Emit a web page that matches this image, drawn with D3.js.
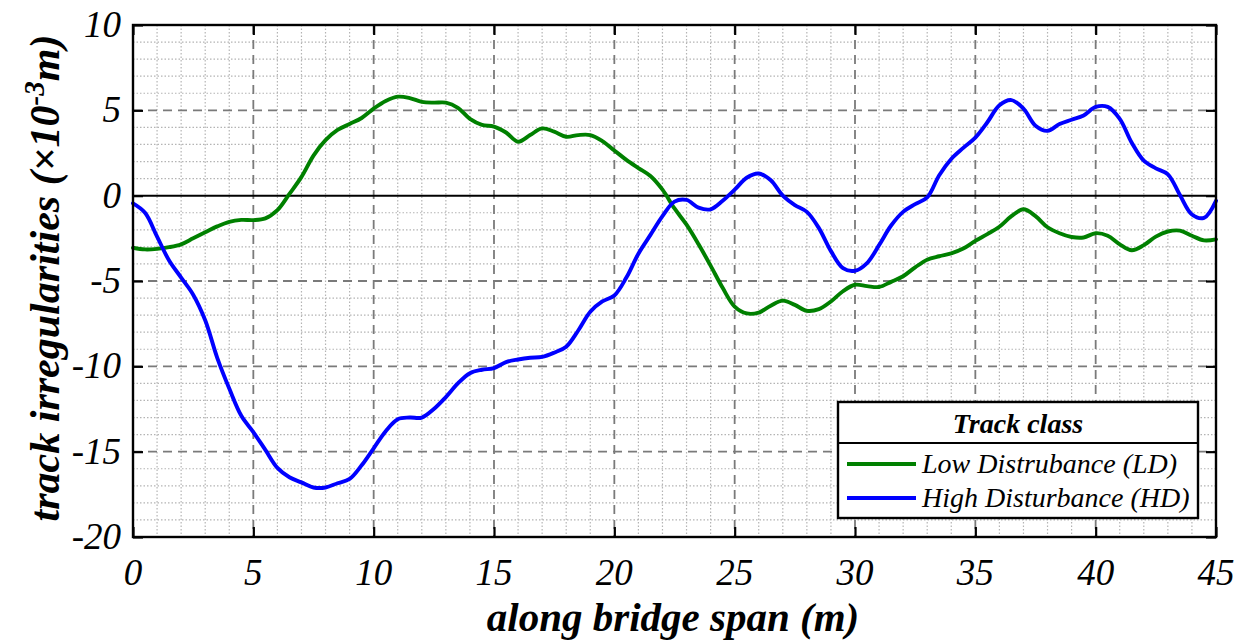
<!DOCTYPE html>
<html>
<head>
<meta charset="utf-8">
<script src="https://cdn.jsdelivr.net/npm/d3@7"></script>
<style>
  html, body { margin: 0; padding: 0; background: #fff; }
  svg { display: block; }
  text { font-family: "Liberation Serif", "Times New Roman", serif; }
</style>
</head>
<body>
<svg id="chart" width="1240" height="641"></svg>
<script>
// Positions along the span (m), sampled every 0.5 m
const spanX = d3.range(0, 45.01, 0.5);

// Low disturbance track profile (×10^-3 m)
const lowDisturbance = [
  -3.05, -3.15, -3.12, -3.02, -2.85, -2.5, -2.15, -1.8, -1.53, -1.42,
  -1.43, -1.33, -0.85, 0.1, 1.1, 2.35, 3.25, 3.85, 4.2, 4.55,
  5.1, 5.55, 5.8, 5.72, 5.5, 5.45, 5.45, 5.15, 4.5, 4.15,
  4.05, 3.7, 3.16, 3.55, 3.94, 3.75, 3.45, 3.55, 3.55, 3.2,
  2.65, 2.1, 1.62, 1.15, 0.35, -0.75, -1.7, -2.85, -4.1, -5.4,
  -6.5, -6.9, -6.85, -6.45, -6.15, -6.4, -6.75, -6.65, -6.2, -5.6,
  -5.22, -5.3, -5.35, -5.05, -4.72, -4.2, -3.75, -3.55, -3.38, -3.1,
  -2.65, -2.25, -1.82, -1.2, -0.8, -1.2, -1.85, -2.2, -2.42, -2.45,
  -2.2, -2.35, -2.85, -3.2, -2.9, -2.4, -2.1, -2.05, -2.35, -2.62,
  -2.56
];

// High disturbance track profile (×10^-3 m)
const highDisturbance = [
  -0.45, -1.0, -2.4, -3.8, -4.8, -5.8, -7.3, -9.5, -11.3, -12.9,
  -13.85, -14.9, -15.95, -16.5, -16.8, -17.1, -17.1, -16.85, -16.6, -15.8,
  -14.8, -13.8, -13.1, -13.0, -13.0, -12.5, -11.8, -11.0, -10.4, -10.2,
  -10.1, -9.75, -9.6, -9.5, -9.45, -9.2, -8.85, -7.9, -6.8, -6.2,
  -5.85, -4.8, -3.4, -2.3, -1.2, -0.35, -0.25, -0.7, -0.8, -0.3,
  0.35, 1.05, 1.3, 0.9, 0.0, -0.55, -0.95, -1.9, -3.25, -4.25,
  -4.4, -3.95, -2.9, -1.75, -0.95, -0.5, -0.1, 1.2, 2.15, 2.8,
  3.4, 4.3, 5.3, 5.6, 5.1, 4.1, 3.8, 4.2, 4.45, 4.7,
  5.2, 5.2, 4.5, 3.1, 2.05, 1.6, 1.25, 0.04, -1.1, -1.3,
  -0.3
];

const xTicks = [0, 5, 10, 15, 20, 25, 30, 35, 40, 45];
const yTicks = [-20, -15, -10, -5, 0, 5, 10];
const xMinor = d3.range(0, 46, 1);
const yMinor = d3.range(-20, 11, 1);

const seriesNames = ["Low Distrubance (LD)", "High Disturbance (HD)"];
const seriesColors = ["#008000", "#0000ff"];

const svg = d3.select("#chart");
const plotL = 133, plotR = 1216, plotT = 25, plotB = 537;

const x = d3.scaleLinear().domain([0, 45]).range([plotL, plotR]);
const y = d3.scaleLinear().domain([-20, 10]).range([plotB, plotT]);

// minor grid (dotted)
const grid = svg.append("g");
grid.selectAll("line.vminor").data(xMinor.filter(v => v % 5 !== 0)).join("line")
  .attr("x1", d => x(d)).attr("x2", d => x(d)).attr("y1", plotT).attr("y2", plotB)
  .attr("stroke", "#b4b4b4").attr("stroke-width", 1.2).attr("stroke-dasharray", "1.5,2");
grid.selectAll("line.hminor").data(yMinor.filter(v => v % 5 !== 0)).join("line")
  .attr("y1", d => y(d)).attr("y2", d => y(d)).attr("x1", plotL).attr("x2", plotR)
  .attr("stroke", "#b4b4b4").attr("stroke-width", 1.2).attr("stroke-dasharray", "1.5,2");

// major grid (dashed)
grid.selectAll("line.vmajor").data(xTicks.slice(1, -1)).join("line")
  .attr("x1", d => x(d)).attr("x2", d => x(d)).attr("y1", plotT).attr("y2", plotB)
  .attr("stroke", "#7a7a7a").attr("stroke-width", 1.8).attr("stroke-dasharray", "9,6");
grid.selectAll("line.hmajor").data(yTicks.filter(v => v !== 0 && v !== -20 && v !== 10)).join("line")
  .attr("y1", d => y(d)).attr("y2", d => y(d)).attr("x1", plotL).attr("x2", plotR)
  .attr("stroke", "#7a7a7a").attr("stroke-width", 1.8).attr("stroke-dasharray", "9,6");

// zero reference line
svg.append("line")
  .attr("x1", plotL).attr("x2", plotR).attr("y1", y(0)).attr("y2", y(0))
  .attr("stroke", "#000").attr("stroke-width", 2);

// curves
const line = d3.line().x((d, i) => x(spanX[i])).y(d => y(d)).curve(d3.curveCatmullRom.alpha(0.5));
[lowDisturbance, highDisturbance].forEach((s, k) => {
  svg.append("path").datum(s).attr("d", line)
    .attr("fill", "none").attr("stroke", seriesColors[k]).attr("stroke-width", 3.9)
    .attr("stroke-linejoin", "round").attr("stroke-linecap", "round");
});

// axes with inward ticks on all sides
const tickLen = 10;
const axB = d3.axisBottom(x).tickValues(xTicks).tickSize(-tickLen).tickFormat("");
const axT = d3.axisTop(x).tickValues(xTicks).tickSize(-tickLen).tickFormat("");
const axL = d3.axisLeft(y).tickValues(yTicks).tickSize(-tickLen).tickFormat("");
const axR = d3.axisRight(y).tickValues(yTicks).tickSize(-tickLen).tickFormat("");
[[axB, `translate(0,${plotB})`], [axT, `translate(0,${plotT})`],
 [axL, `translate(${plotL},0)`], [axR, `translate(${plotR},0)`]].forEach(([a, t]) => {
  const g = svg.append("g").attr("transform", t).call(a);
  g.select(".domain").remove();
  g.selectAll(".tick line").attr("stroke", "#000").attr("stroke-width", 2.2);
});

// frame
svg.append("rect").attr("x", plotL).attr("y", plotT)
  .attr("width", plotR - plotL).attr("height", plotB - plotT)
  .attr("fill", "none").attr("stroke", "#000").attr("stroke-width", 2.4);

// tick labels
svg.append("g").selectAll("text").data(xTicks).join("text")
  .attr("x", d => x(d)).attr("y", 585)
  .attr("text-anchor", "middle").attr("font-style", "italic").attr("font-size", 37)
  .text(d => d);
svg.append("g").selectAll("text").data(yTicks).join("text")
  .attr("x", 121).attr("y", d => y(d) + 12)
  .attr("text-anchor", "end").attr("font-style", "italic").attr("font-size", 37)
  .text(d => d);

// axis titles
svg.append("text").attr("x", 673).attr("y", 631)
  .attr("text-anchor", "middle").attr("font-style", "italic").attr("font-weight", "bold")
  .attr("font-size", 41).text("along bridge span (m)");

const yt = svg.append("text")
  .attr("transform", "translate(59,278) rotate(-90)")
  .attr("text-anchor", "middle").attr("font-style", "italic").attr("font-weight", "bold")
  .attr("font-size", 42);
yt.append("tspan").text("track irregularities (\u00d710");
yt.append("tspan").attr("dy", -15).attr("font-size", 29).text("-3");
yt.append("tspan").attr("dy", 15).text("m)");

// legend
const lg = svg.append("g");
const lx = 838, ly = 402, lw = 360, lh = 116;
lg.append("rect").attr("x", lx).attr("y", ly).attr("width", lw).attr("height", lh)
  .attr("fill", "#fff").attr("stroke", "#000").attr("stroke-width", 2.4);
lg.append("line").attr("x1", lx).attr("x2", lx + lw).attr("y1", 443).attr("y2", 443)
  .attr("stroke", "#000").attr("stroke-width", 2);
lg.append("text").attr("x", lx + lw / 2).attr("y", 433)
  .attr("text-anchor", "middle").attr("font-style", "italic").attr("font-weight", "bold")
  .attr("font-size", 28).text("Track class");
seriesNames.forEach((n, i) => {
  const yy = 464 + i * 34;
  lg.append("line").attr("x1", 847).attr("x2", 916).attr("y1", yy).attr("y2", yy)
    .attr("stroke", seriesColors[i]).attr("stroke-width", 3.9);
  lg.append("text").attr("x", 922).attr("y", yy + 9)
    .attr("font-style", "italic").attr("font-size", 28).text(n);
});
</script>
</body>
</html>
